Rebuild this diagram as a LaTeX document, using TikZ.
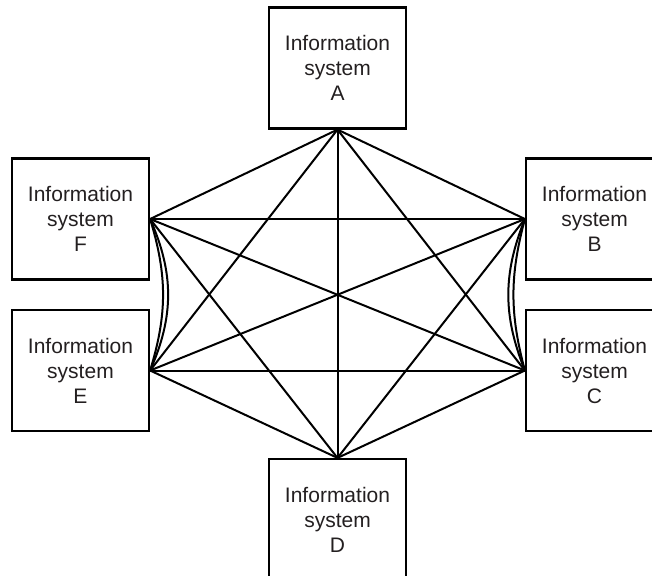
\documentclass[tikz,border=0pt]{standalone}
\usepackage{fontspec}
\setmainfont{Liberation Sans}
\definecolor{inkgray}{HTML}{231F20}
\begin{document}
\begin{tikzpicture}[x=1pt,y=1pt,
  sysbox/.style={draw=black, line width=2.2pt, minimum width=137pt, minimum height=121pt,
    inner sep=0pt, align=center, text=inkgray, font=\fontsize{21}{25}\selectfont},
  link/.style={draw=black, line width=2pt}]
  \useasboundingbox (0,0) rectangle (652,-575);
  \clip (0,0) rectangle (652,-575);
  % six systems around the hub
  \node[sysbox] (A) at (337.5,-68)    {Information\\system\\A};
  \node[sysbox] (F) at (80.5,-219)    {Information\\system\\F};
  \node[sysbox] (B) at (594.5,-219)   {Information\\system\\B};
  \node[sysbox] (E) at (80.5,-370.5)  {Information\\system\\E};
  \node[sysbox] (C) at (594.5,-370.5) {Information\\system\\C};
  \node[sysbox] (D) at (337.5,-519.5) {Information\\system\\D};
  % straight links between every pair
  \draw[link] (A.south) -- (F.east);
  \draw[link] (A.south) -- (B.west);
  \draw[link] (A.south) -- (E.east);
  \draw[link] (A.south) -- (C.west);
  \draw[link] (A.south) -- (D.north);
  \draw[link] (F.east) -- (B.west);
  \draw[link] (F.east) -- (C.west);
  \draw[link] (F.east) -- (D.north);
  \draw[link] (B.west) -- (E.east);
  \draw[link] (B.west) -- (D.north);
  \draw[link] (E.east) -- (C.west);
  \draw[link] (E.east) -- (D.north);
  \draw[link] (C.west) -- (D.north);
  % curved links between neighbouring systems
  \draw[link] (F.east) to[bend left=17] (E.east);
  \draw[link] (F.east) to[bend left=24] (E.east);
  \draw[link] (B.west) to[bend right=15] (C.west);
  \draw[link] (B.west) to[bend right=22] (C.west);
\end{tikzpicture}
\end{document}
